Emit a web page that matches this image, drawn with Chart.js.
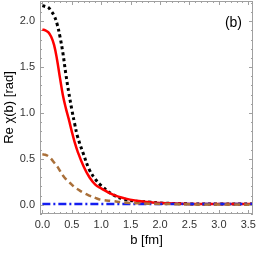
<!DOCTYPE html>
<html>
<head>
<meta charset="utf-8">
<script src="https://cdn.jsdelivr.net/npm/chart.js@4"></script>
<style>
  html, body { margin: 0; padding: 0; background: #fff; overflow: hidden; }
  canvas { display: block; }
</style>
</head>
<body>
<canvas id="chiChart" width="258" height="253"></canvas>
<script>
// impact parameter grid (fm)
const bValues = [0, 0.05, 0.1, 0.15, 0.2, 0.25, 0.3, 0.35, 0.4, 0.45, 0.5, 0.55, 0.6, 0.7, 0.8, 0.9, 1.0, 1.2, 1.4, 1.6, 1.8, 2.0, 2.5, 3.0, 3.6];

// Re chi(b) curves
const blackDotted = [2.17, 2.16, 2.15, 2.11, 2.06, 1.97, 1.83, 1.65, 1.42, 1.22, 1.04, 0.88, 0.74, 0.55, 0.38, 0.28, 0.21, 0.11, 0.06, 0.04, 0.03, 0.02, 0.01, 0.01, 0.01];
const redSolid = [1.91, 1.90, 1.88, 1.83, 1.74, 1.58, 1.38, 1.19, 1.05, 0.93, 0.80, 0.68, 0.58, 0.42, 0.30, 0.22, 0.18, 0.11, 0.07, 0.045, 0.03, 0.02, 0.01, 0.01, 0.01];
const brownDashed = [0.55, 0.545, 0.53, 0.50, 0.46, 0.42, 0.37, 0.32, 0.28, 0.25, 0.22, 0.19, 0.17, 0.13, 0.10, 0.075, 0.055, 0.04, 0.025, 0.018, 0.012, 0.01, 0.005, 0.003, 0.002];
const blueDashDot = [0.01, 0.01, 0.01, 0.01, 0.01, 0.01, 0.01, 0.01, 0.01, 0.01, 0.01, 0.01, 0.01, 0.01, 0.01, 0.01, 0.01, 0.01, 0.01, 0.01, 0.01, 0.01, 0.01, 0.01, 0.01];

// tick labels
const xTicks = [0, 0.5, 1.0, 1.5, 2.0, 2.5, 3.0, 3.5];
const yTicks = [0, 0.5, 1.0, 1.5, 2.0];

function toPoints(ys) {
    return bValues.map((b, i) => ({ x: b, y: ys[i] }));
}

// frame with inward ticks, Mathematica style
const framePlugin = {
    id: 'frame',
    afterDraw(chart) {
        const ctx = chart.ctx;
        const a = chart.chartArea;
        const xs = chart.scales.x;
        const ys = chart.scales.y;
        ctx.save();
        ctx.strokeStyle = '#a0a0a0';
        ctx.lineWidth = 1;
        ctx.strokeRect(a.left + 0.5, a.top + 0.5, a.right - a.left - 1, a.bottom - a.top - 1);
        ctx.beginPath();
        for (let k = -1; k <= 36; k++) {
            const v = k / 10;
            if (v < xs.min || v > xs.max) continue;
            const len = (k % 5 === 0) ? 4 : 2;
            const px = Math.round(xs.getPixelForValue(v)) + 0.5;
            ctx.moveTo(px, a.bottom); ctx.lineTo(px, a.bottom - len);
            ctx.moveTo(px, a.top); ctx.lineTo(px, a.top + len);
        }
        for (let k = -1; k <= 22; k++) {
            const v = k / 10;
            if (v < ys.min || v > ys.max) continue;
            const len = (k % 5 === 0) ? 4 : 2;
            const py = Math.round(ys.getPixelForValue(v)) + 0.5;
            ctx.moveTo(a.left, py); ctx.lineTo(a.left + len, py);
            ctx.moveTo(a.right, py); ctx.lineTo(a.right - len, py);
        }
        ctx.stroke();
        // panel label
        ctx.fillStyle = '#000';
        ctx.font = '14px "Liberation Sans", Arial, sans-serif';
        ctx.textAlign = 'right';
        ctx.textBaseline = 'middle';
        ctx.fillText('(b)', a.right - 11, a.top + 22);
        ctx.restore();
    }
};

const tickFont = { family: '"Liberation Sans", Arial, sans-serif', size: 11 };
const titleFont = { family: '"Liberation Sans", Arial, sans-serif', size: 13 };

new Chart(document.getElementById('chiChart'), {
    type: 'line',
    data: {
        datasets: [
            {
                data: toPoints(brownDashed),
                borderColor: 'rgb(170, 112, 58)',
                borderWidth: 2.5,
                borderDash: [6, 4],
                pointRadius: 0,
                tension: 0.4
            },
            {
                data: toPoints(blueDashDot),
                borderColor: 'rgb(20, 30, 240)',
                borderWidth: 2.5,
                borderDash: [8, 3, 2, 3],
                pointRadius: 0,
                tension: 0
            },
            {
                data: toPoints(redSolid),
                borderColor: 'rgb(255, 0, 0)',
                borderWidth: 2.5,
                pointRadius: 0,
                tension: 0.4
            },
            {
                data: toPoints(blackDotted),
                borderColor: '#000',
                borderWidth: 3,
                borderDash: [3, 3],
                pointRadius: 0,
                tension: 0.4
            }
        ]
    },
    options: {
        responsive: false,
        animation: false,
        layout: { padding: { top: 1, right: 5, left: 0, bottom: 0 } },
        plugins: {
            legend: { display: false },
            tooltip: { enabled: false }
        },
        scales: {
            x: {
                type: 'linear',
                min: -0.04,
                max: 3.58,
                afterBuildTicks: (s) => { s.ticks = xTicks.map(v => ({ value: v })); },
                afterFit: (s) => { s.height = 39; s.paddingLeft = 0; s.paddingRight = 0; },
                grid: { display: false, drawTicks: false },
                border: { display: false },
                ticks: {
                    padding: 4,
                    color: '#333',
                    font: tickFont,
                    maxRotation: 0,
                    callback: (v) => v.toFixed(1)
                },
                title: {
                    display: true,
                    text: 'b [fm]',
                    color: '#000',
                    font: titleFont,
                    padding: { top: 0, bottom: 5 }
                }
            },
            y: {
                type: 'linear',
                min: -0.1,
                max: 2.22,
                afterBuildTicks: (s) => { s.ticks = yTicks.map(v => ({ value: v })); },
                afterFit: (s) => { s.width = 40; s.paddingTop = 0; s.paddingBottom = 0; },
                grid: { display: false, drawTicks: false },
                border: { display: false },
                ticks: {
                    padding: 5,
                    color: '#333',
                    font: tickFont,
                    callback: (v) => v.toFixed(1)
                },
                title: {
                    display: true,
                    text: 'Re χ(b) [rad]',
                    color: '#000',
                    font: titleFont,
                    padding: { top: 2, bottom: 0 }
                }
            }
        }
    },
    plugins: [framePlugin]
});
</script>
</body>
</html>
